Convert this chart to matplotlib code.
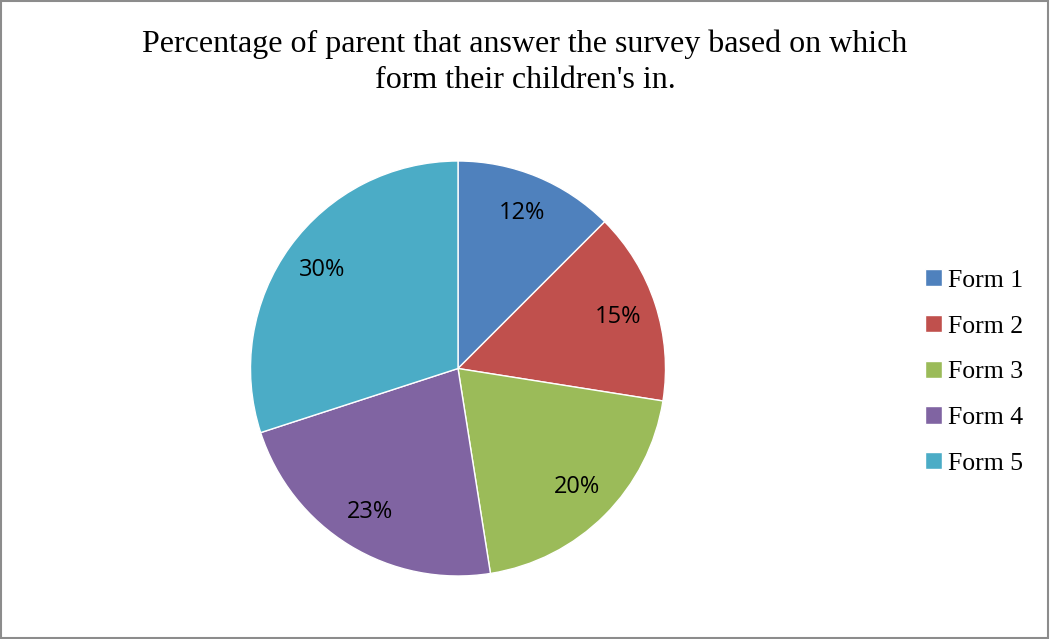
import numpy as np
import matplotlib.pyplot as plt
from matplotlib.patches import Rectangle

categorias = ['Form 1', 'Form 2', 'Form 3', 'Form 4', 'Form 5']
percentuais = [12.5, 15, 20, 22.5, 30]
rotulos = ['12%', '15%', '20%', '23%', '30%']
cores = ['#4F81BD', '#C0504D', '#9BBB59', '#8064A2', '#4BACC6']

titulo = "Percentage of parent that answer the survey based on which\nform their children's in."

fig = plt.figure(figsize=(10.5, 6.39), dpi=100)

# borda cinza do grafico
fig.patches.append(Rectangle((0.001, 0.002), 0.997, 0.996, transform=fig.transFigure,
                             fill=False, edgecolor='#8c8c8c', linewidth=1.5))

r_w = 415 / 1050
r_h = 415 / 639
ax = fig.add_axes([458 / 1050 - r_w / 2, 1 - 368.5 / 639 - r_h / 2, r_w, r_h])

fatias, textos = ax.pie(
    percentuais, colors=cores, startangle=90, counterclock=False, radius=1,
    wedgeprops=dict(edgecolor='white', linewidth=1))

# rotulos de porcentagem dentro das fatias
for fatia, rot in zip(fatias, rotulos):
    ang = np.deg2rad((fatia.theta1 + fatia.theta2) / 2)
    ax.text(0.81 * np.cos(ang), 0.81 * np.sin(ang), rot, ha='center', va='center',
            fontsize=17, family=['Open Sans', 'DejaVu Sans'], color='black')

ax.set_xlim(-1, 1)
ax.set_ylim(-1, 1)
ax.set_aspect('equal')

fig.text(0.5, 1 - 62 / 639, titulo, ha='center', va='center', fontsize=23,
         family='Liberation Serif', linespacing=1.3)

fig.legend(fatias, categorias, loc='center left', bbox_to_anchor=(902 / 1050, 1 - 372 / 639),
           frameon=False, prop=dict(family='Liberation Serif', size=18.5),
           handlelength=0.65, handleheight=0.65, handletextpad=0.25, labelspacing=0.9)

fig.savefig('out.png', dpi=100)
